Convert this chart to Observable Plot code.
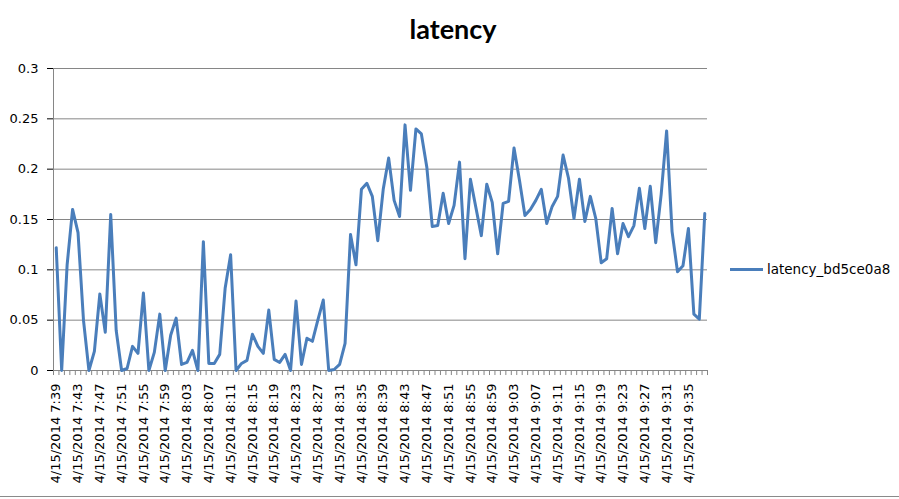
<!DOCTYPE html>
<html>
<head>
<meta charset="utf-8">
<script src="https://cdn.jsdelivr.net/npm/d3@7"></script>
<script src="https://cdn.jsdelivr.net/npm/@observablehq/plot@0.6"></script>
<style>
  body { margin: 0; background: #ffffff; }
  #wrap { position: relative; width: 899px; height: 499px; overflow: hidden; background: #fff; }
  #title { position: absolute; left: 0; top: 12px; width: 906px; text-align: center;
           font-family: Lato, "Liberation Sans", sans-serif; font-weight: bold; font-size: 27px; color: #000; }
  #legend { position: absolute; left: 730px; top: 261px; font-family: "DejaVu Sans"; font-size: 13.5px; color: #000;
            display: flex; align-items: center; white-space: nowrap; }
  #legend .sw { width: 33px; height: 3px; background: #4a7ebb; margin-right: 4px; }
  #border { position: absolute; left: 0; top: 496px; width: 899px; height: 1px; background: #8a8a8a; }
  #chart svg { overflow: visible; }
</style>
</head>
<body>
<div id="wrap">
  <div id="chart"></div>
  <div id="title">latency</div>
  <div id="legend"><div class="sw"></div><span>latency_bd5ce0a8</span></div>
  <div id="border"></div>
</div>
<script>
const datePrefix = "4/15/2014";
const categories = [
  "7:39","7:40","7:41","7:42","7:43","7:44","7:45","7:46","7:47","7:48",
  "7:49","7:50","7:51","7:52","7:53","7:54","7:55","7:56","7:57","7:58",
  "7:59","8:00","8:01","8:02","8:03","8:04","8:05","8:06","8:07","8:08",
  "8:09","8:10","8:11","8:12","8:13","8:14","8:15","8:16","8:17","8:18",
  "8:19","8:20","8:21","8:22","8:23","8:24","8:25","8:26","8:27","8:28",
  "8:29","8:30","8:31","8:32","8:33","8:34","8:35","8:36","8:37","8:38",
  "8:39","8:40","8:41","8:42","8:43","8:44","8:45","8:46","8:47","8:48",
  "8:49","8:50","8:51","8:52","8:53","8:54","8:55","8:56","8:57","8:58",
  "8:59","9:00","9:01","9:02","9:03","9:04","9:05","9:06","9:07","9:08",
  "9:09","9:10","9:11","9:12","9:13","9:14","9:15","9:16","9:17","9:18",
  "9:19","9:20","9:21","9:22","9:23","9:24","9:25","9:26","9:27","9:28",
  "9:29","9:30","9:31","9:32","9:33","9:34","9:35","9:36","9:37","9:38"
];
const latency = [
  0.122,0.000,0.105,0.160,0.137,0.050,0.000,0.019,0.076,0.038,
  0.155,0.040,0.000,0.002,0.024,0.017,0.077,0.000,0.018,0.056,
  0.000,0.035,0.052,0.006,0.008,0.020,0.000,0.128,0.007,0.007,
  0.016,0.082,0.115,0.000,0.007,0.010,0.036,0.024,0.017,0.060,
  0.011,0.008,0.016,0.000,0.069,0.006,0.032,0.029,0.050,0.070,
  0.000,0.001,0.006,0.027,0.135,0.105,0.180,0.186,0.173,0.129,
  0.180,0.211,0.169,0.153,0.244,0.179,0.240,0.235,0.202,0.143,
  0.144,0.176,0.146,0.164,0.207,0.111,0.190,0.162,0.134,0.185,
  0.167,0.116,0.166,0.168,0.221,0.189,0.154,0.160,0.169,0.180,
  0.146,0.163,0.173,0.214,0.191,0.151,0.190,0.148,0.173,0.151,
  0.107,0.111,0.161,0.116,0.146,0.133,0.144,0.181,0.141,0.183,
  0.127,0.175,0.238,0.138,0.098,0.104,0.141,0.056,0.051,0.156
];
const xTickLabels = [
  "7:39","7:43","7:47","7:51","7:55","7:59","8:03","8:07","8:11","8:15",
  "8:19","8:23","8:27","8:31","8:35","8:39","8:43","8:47","8:51","8:55",
  "8:59","9:03","9:07","9:11","9:15","9:19","9:23","9:27","9:31","9:35"
];
const yTicks = [0, 0.05, 0.1, 0.15, 0.2, 0.25, 0.3];
const yTickLabels = ["0", "0.05", "0.1", "0.15", "0.2", "0.25", "0.3"];
const seriesName = "latency_bd5ce0a8";

const data = categories.map((t, i) => ({i, t, v: latency[i]}));
const xTickIdx = xTickLabels.map(l => categories.indexOf(l));
const boundaries = d3.range(categories.length + 1).map(k => k - 0.5);
const gray = "#868686";

const chart = Plot.plot({
  width: 899,
  height: 499,
  marginLeft: 53,
  marginRight: 192,
  marginTop: 68,
  marginBottom: 129,
  style: {fontFamily: "DejaVu Sans", fontSize: "13px", color: "#000", background: "transparent"},
  x: {
    type: "linear",
    domain: [-0.5, categories.length - 0.5],
    ticks: xTickIdx,
    tickFormat: i => `${datePrefix} ${categories[i]}`,
    tickRotate: -90,
    tickSize: 0,
    tickPadding: 13,
    label: null
  },
  y: {
    domain: [0, 0.3],
    ticks: yTicks,
    tickFormat: d => yTickLabels[yTicks.indexOf(d)],
    tickSize: 6,
    tickPadding: 9,
    label: null
  },
  marks: [
    Plot.ruleY(yTicks, {stroke: gray, strokeWidth: 1}),
    Plot.ruleX([-0.5], {stroke: gray, strokeWidth: 1}),
    Plot.ruleX(boundaries, {y1: 0, y2: -0.005, stroke: gray, strokeWidth: 1}),
    Plot.line(data, {x: "i", y: "v", stroke: "#4a7ebb", strokeWidth: 3, strokeLinejoin: "round", strokeLinecap: "round"})
  ]
});
chart.querySelectorAll("line").forEach(l => {
  const g = l.closest("g");
  if (g && (g.getAttribute("aria-label") || "").match(/axis/)) {
    l.setAttribute("stroke", gray);
  }
});
chart.querySelectorAll("path.domain").forEach(p => p.remove());
document.getElementById("chart").appendChild(chart);
</script>
</body>
</html>
